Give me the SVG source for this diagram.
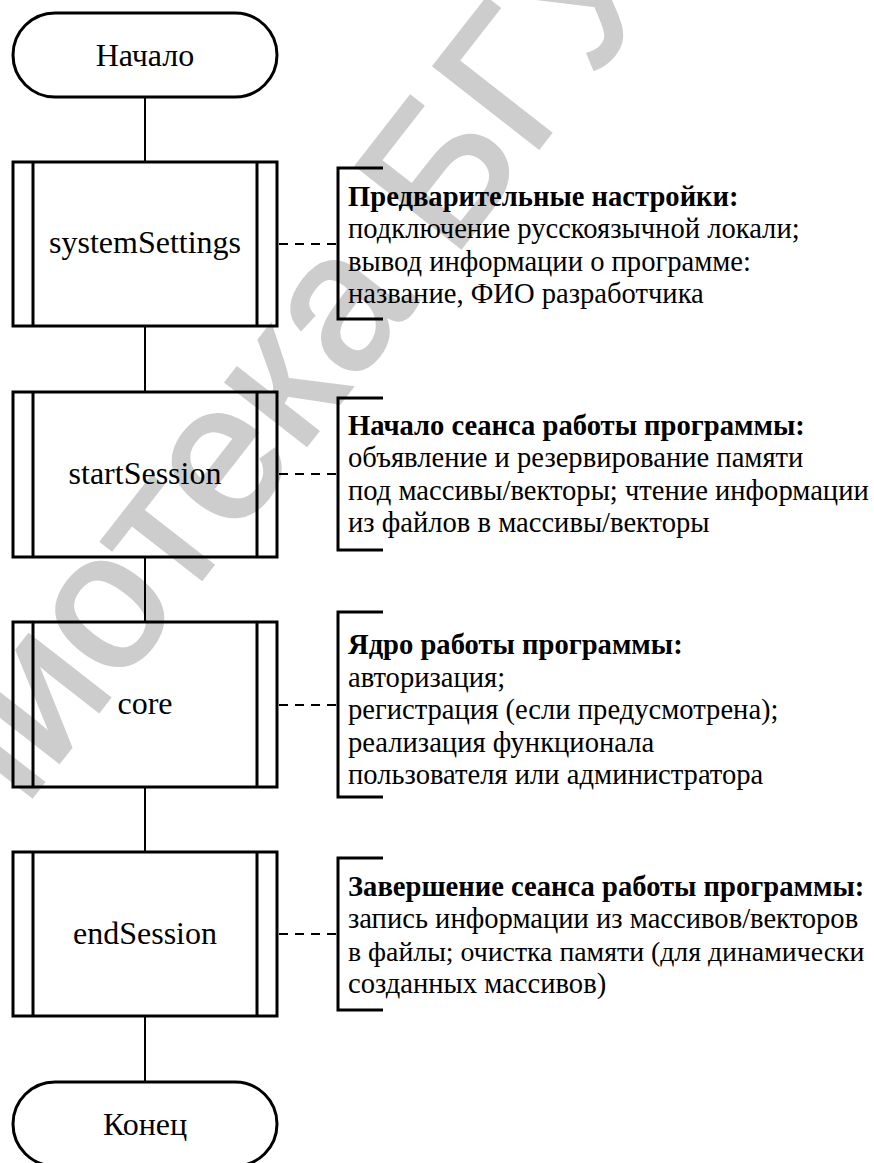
<svg xmlns="http://www.w3.org/2000/svg" width="874" height="1163" viewBox="0 0 874 1163">
  <defs>
    <style>
      .shape { fill: none; stroke: #000; stroke-width: 3; }
      .bar { stroke: #000; stroke-width: 3; fill: none; }
      .flow { stroke: #000; stroke-width: 2; fill: none; }
      .dash { stroke: #000; stroke-width: 2; fill: none; stroke-dasharray: 9 7; }
      .bracket { stroke: #000; stroke-width: 3; fill: none; }
      .label { font-family: 'Liberation Serif', 'Times New Roman', serif; font-size: 32px; fill: #000; text-anchor: middle; }
      .note { font-family: 'Liberation Serif', 'Times New Roman', serif; font-size: 28.6px; fill: #000; }
      .head { font-weight: bold; }
      .tight { font-size: 27.8px; }
      .mark { font-family: 'Liberation Sans', Arial, sans-serif; font-size: 192px; fill: #cdcdcd; stroke: #cdcdcd; stroke-width: 4; }
    </style>
  </defs>

  <rect width="874" height="1163" fill="#fff"/>

  <!-- background watermark -->
  <text class="mark" x="304" y="448" text-anchor="middle" transform="rotate(-52 304 448)">Библиотека БГУИР</text>

  <!-- flow lines and annotation links -->
  <g id="connectors">
    <line class="flow" x1="145" y1="97" x2="145" y2="162"/>
    <line class="flow" x1="145" y1="326" x2="145" y2="392"/>
    <line class="flow" x1="145" y1="557" x2="145" y2="622"/>
    <line class="flow" x1="145" y1="787" x2="145" y2="852"/>
    <line class="flow" x1="145" y1="1016" x2="145" y2="1082"/>
    <line class="dash" x1="279" y1="244" x2="338" y2="244"/>
    <line class="dash" x1="279" y1="474" x2="338" y2="474"/>
    <line class="dash" x1="279" y1="705" x2="338" y2="705"/>
    <line class="dash" x1="279" y1="934" x2="338" y2="934"/>
  </g>

  <g id="start">
    <rect class="shape" x="13" y="13" width="264" height="84" rx="42" ry="42"/>
    <text class="label" x="145" y="66">Начало</text>
  </g>

  <g id="systemSettings">
    <rect class="shape" x="13" y="162" width="264" height="164"/>
    <line class="bar" x1="33" y1="162" x2="33" y2="326"/>
    <line class="bar" x1="257" y1="162" x2="257" y2="326"/>
    <text class="label" x="145" y="253">systemSettings</text>
  </g>

  <g id="startSession">
    <rect class="shape" x="13" y="392" width="264" height="165"/>
    <line class="bar" x1="33" y1="392" x2="33" y2="557"/>
    <line class="bar" x1="257" y1="392" x2="257" y2="557"/>
    <text class="label" x="145" y="484">startSession</text>
  </g>

  <g id="core">
    <rect class="shape" x="13" y="622" width="264" height="165"/>
    <line class="bar" x1="33" y1="622" x2="33" y2="787"/>
    <line class="bar" x1="257" y1="622" x2="257" y2="787"/>
    <text class="label" x="145" y="714">core</text>
  </g>

  <g id="endSession">
    <rect class="shape" x="13" y="852" width="264" height="164"/>
    <line class="bar" x1="33" y1="852" x2="33" y2="1016"/>
    <line class="bar" x1="257" y1="852" x2="257" y2="1016"/>
    <text class="label" x="145" y="944">endSession</text>
  </g>

  <g id="end">
    <rect class="shape" x="13" y="1082" width="264" height="84" rx="42" ry="42"/>
    <text class="label" x="145" y="1135">Конец</text>
  </g>

  <g id="note-systemSettings">
    <path class="bracket" d="M383,168 H338 V319 H383"/>
    <text class="note">
      <tspan class="head" x="348" y="206">Предварительные настройки:</tspan>
      <tspan x="348" y="238">подключение русскоязычной локали;</tspan>
      <tspan x="348" y="271">вывод информации о программе:</tspan>
      <tspan x="348" y="303">название, ФИО разработчика</tspan>
    </text>
  </g>

  <g id="note-startSession">
    <path class="bracket" d="M383,398 H338 V550 H383"/>
    <text class="note">
      <tspan class="head" x="348" y="435">Начало сеанса работы программы:</tspan>
      <tspan x="348" y="467">объявление и резервирование памяти</tspan>
      <tspan x="348" y="500">под массивы/векторы; чтение информации</tspan>
      <tspan x="348" y="532">из файлов в массивы/векторы</tspan>
    </text>
  </g>

  <g id="note-core">
    <path class="bracket" d="M383,612 H338 V797 H383"/>
    <text class="note">
      <tspan class="head" x="348" y="654">Ядро работы программы:</tspan>
      <tspan x="348" y="687">авторизация;</tspan>
      <tspan x="348" y="719">регистрация (если предусмотрена);</tspan>
      <tspan x="348" y="752">реализация функционала</tspan>
      <tspan x="348" y="784">пользователя или администратора</tspan>
    </text>
  </g>

  <g id="note-endSession">
    <path class="bracket" d="M383,858 H338 V1010 H383"/>
    <text class="note">
      <tspan class="head" x="348" y="896">Завершение сеанса работы программы:</tspan>
      <tspan x="348" y="928">запись информации из массивов/векторов</tspan>
      <tspan class="tight" x="348" y="961">в файлы; очистка памяти (для динамически</tspan>
      <tspan x="348" y="993">созданных массивов)</tspan>
    </text>
  </g>
</svg>
